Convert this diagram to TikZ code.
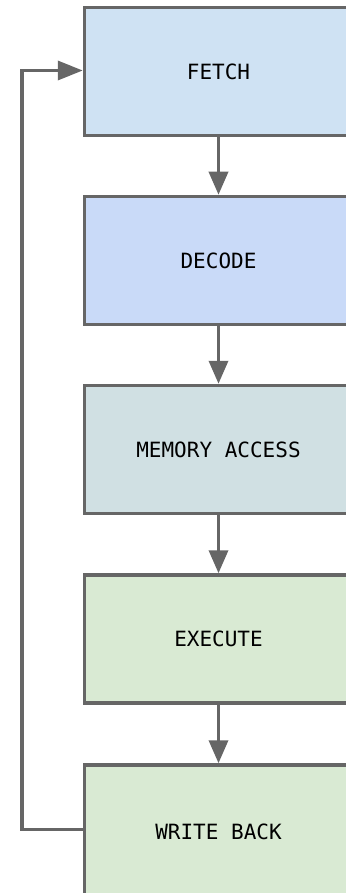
\documentclass[tikz,border=0pt]{standalone}
\usepackage{fontspec}
\newfontfamily\stagefont{DejaVu Sans Mono}
\usetikzlibrary{arrows.meta}
\definecolor{edgegray}{HTML}{666666}
\definecolor{fetchfill}{HTML}{CFE2F3}
\definecolor{decodefill}{HTML}{C9DAF8}
\definecolor{memfill}{HTML}{D0E0E3}
\definecolor{execfill}{HTML}{D9EAD3}
\tikzset{
  stagebox/.style={draw=edgegray, line width=3.5pt, minimum width=268pt, minimum height=128pt,
    inner sep=0pt, font=\stagefont\fontsize{21pt}{24pt}\selectfont, text=black},
  flow/.style={draw=edgegray, line width=3.5pt, -{Triangle[length=23pt,width=19pt]}},
}
\begin{document}
\begin{tikzpicture}[x=1pt,y=-1pt]
  \useasboundingbox (0,0) rectangle (345,893);
  \node[stagebox, fill=fetchfill]  (fetch)  at (218.5, 71.5)  {FETCH};
  \node[stagebox, fill=decodefill] (decode) at (218.5, 260.5) {DECODE};
  \node[stagebox, fill=memfill]    (mem)    at (218.5, 449.5) {MEMORY ACCESS};
  \node[stagebox, fill=execfill]   (exec)   at (218.5, 639)   {EXECUTE};
  \node[stagebox, fill=execfill, minimum height=134pt] (wb) at (218.5, 832) {WRITE BACK};
  \draw[flow] (fetch) -- (decode);
  \draw[flow] (decode) -- (mem);
  \draw[flow] (mem) -- (exec);
  \draw[flow] (exec) -- (wb);
  \coordinate (loopbot) at (22, 829.5);
  \coordinate (looptop) at (22, 70.5);
  \draw[flow, -{Triangle[length=25pt,width=19pt]}] (loopbot -| wb.west) -- (loopbot) -- (looptop) -- (looptop -| fetch.west);
\end{tikzpicture}
\end{document}
